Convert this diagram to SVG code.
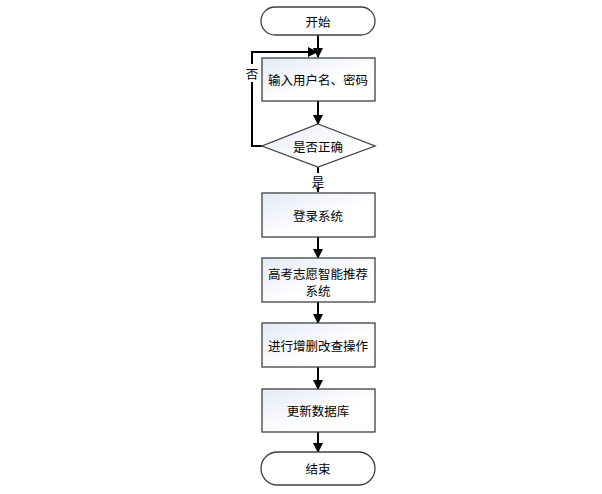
<svg xmlns="http://www.w3.org/2000/svg" width="602" height="494" viewBox="0 0 602 494">
<defs>
<linearGradient id="g" x1="0" y1="0" x2="1" y2="1">
<stop offset="0" stop-color="#e4eaf6"/>
<stop offset="0.6" stop-color="#ffffff"/>
</linearGradient>
<marker id="a" markerWidth="10" markerHeight="10" refX="9" refY="5" orient="auto" markerUnits="userSpaceOnUse">
<path d="M0,0 L10,5 L0,10 Z" fill="#000"/>
</marker>
<marker id="s" markerWidth="5" markerHeight="5" refX="5" refY="2.5" orient="auto" markerUnits="userSpaceOnUse">
<path d="M0,0 L5,2.5 L0,5 Z" fill="#000"/>
</marker>
</defs>
<style>
.n{fill:url(#g);stroke:#404040;stroke-width:1.3}
.t{fill:#fff;stroke:#404040;stroke-width:1.3}
text{font-family:"Noto Sans CJK SC","Liberation Sans",sans-serif;font-size:12.5px;fill:#000;text-anchor:middle;dominant-baseline:central}
.c{fill:none;stroke:#000;stroke-width:2}
.l{fill:#fff;stroke:none}
</style>
<rect width="602" height="494" fill="#fff"/>
<g id="connectors">
<line class="c" x1="318" y1="35" x2="318" y2="57" marker-end="url(#a)"/>
<polyline class="c" points="262,146 252,146 252,52 317,52" marker-end="url(#a)"/>
<line class="c" x1="318" y1="101" x2="318" y2="124" marker-end="url(#a)"/>
<line class="c" x1="318" y1="167" x2="318" y2="192" marker-end="url(#s)" stroke-width="1"/>
<line class="c" x1="318" y1="237" x2="318" y2="258" marker-end="url(#a)"/>
<line class="c" x1="318" y1="302" x2="318" y2="323" marker-end="url(#a)"/>
<line class="c" x1="318" y1="367" x2="318" y2="389" marker-end="url(#a)"/>
<line class="c" x1="318" y1="432" x2="318" y2="452" marker-end="url(#a)"/>
<rect class="l" x="244" y="64" width="16" height="18"/>
<text x="252" y="73">否</text>
<rect class="l" x="310" y="173" width="16" height="15"/>
<text x="318" y="181">是</text>
</g>
<g id="start"><rect class="t" x="261" y="7" width="114" height="28" rx="14"/><text x="318" y="21">开始</text></g>
<g id="input"><rect class="n" x="262" y="58" width="113" height="43"/><text x="318" y="79.5">输入用户名、密码</text></g>
<g id="check"><polygon class="n" points="318,124 375,146 318,167 262,146"/><text x="318" y="146">是否正确</text></g>
<g id="recommend"><rect class="n" x="262" y="258" width="113" height="44"/><text x="318" y="272.5"><tspan x="318" y="272.5">高考志愿智能推荐</tspan><tspan x="318" y="290">系统</tspan></text></g>
<g id="login"><rect class="n" x="262" y="193" width="113" height="44"/><text x="318" y="215">登录系统</text></g>
<g id="crud"><rect class="n" x="262" y="323" width="113" height="44"/><text x="318" y="345">进行增删改查操作</text></g>
<g id="update"><rect class="n" x="262" y="389" width="113" height="43"/><text x="318" y="410.5">更新数据库</text></g>
<g id="end"><rect class="t" x="261" y="452" width="114" height="33" rx="16.5"/><text x="318" y="468.5">结束</text></g>
</svg>
